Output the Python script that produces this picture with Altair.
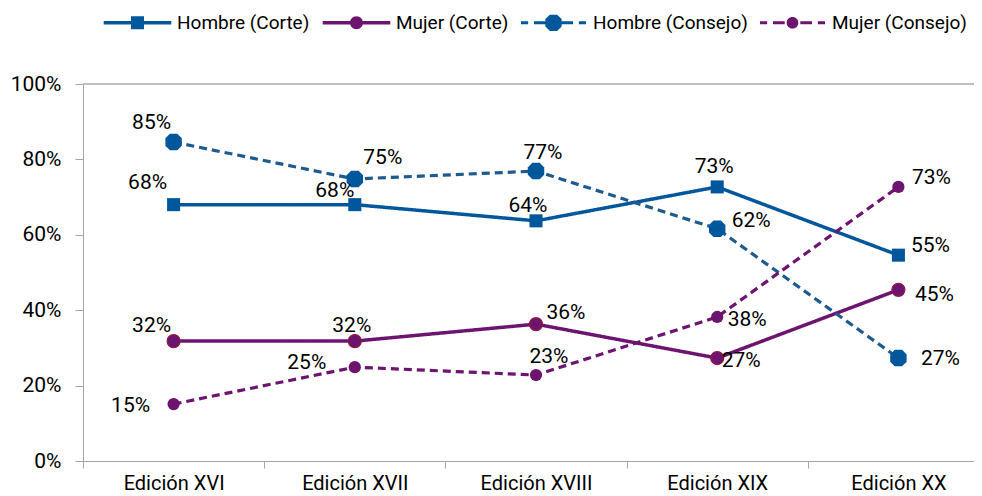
import altair as alt
import pandas as pd

# ---------------- data ----------------
categories = ["Edición XVI", "Edición XVII", "Edición XVIII", "Edición XIX", "Edición XX"]
series_names = ["Hombre (Corte)", "Mujer (Corte)", "Hombre (Consejo)", "Mujer (Consejo)"]

hombre_corte = [68.0, 68.0, 63.7, 72.7, 54.6]
mujer_corte = [31.8, 31.8, 36.3, 27.3, 45.4]
hombre_consejo = [84.6, 74.8, 76.9, 61.6, 27.3]
mujer_consejo = [15.1, 24.9, 22.8, 38.2, 72.7]

# label placement offsets (pixels, relative to each point)
label_dx = {
    "Hombre (Corte)": [-26, -20, -8, -3, 32],
    "Mujer (Corte)": [-22, -3, 30, 24, 36],
    "Hombre (Consejo)": [-22, 28, 7, 34, 42],
    "Mujer (Consejo)": [-43, -48, 13, 30, 33],
}
label_dy = {
    "Hombre (Corte)": [-22, -14, -15, -20, -9],
    "Mujer (Corte)": [-15, -15, -11, 3, 5],
    "Hombre (Consejo)": [-19, -21, -18, -8, 1],
    "Mujer (Consejo)": [2, -4, -18, 3, -9],
}

values = {
    "Hombre (Corte)": hombre_corte,
    "Mujer (Corte)": mujer_corte,
    "Hombre (Consejo)": hombre_consejo,
    "Mujer (Consejo)": mujer_consejo,
}

rows = []
for s in series_names:
    for i, c in enumerate(categories):
        rows.append({"serie": s, "edicion": c, "valor": values[s][i],
                     "dx": label_dx[s][i], "dy": label_dy[s][i]})
df = pd.DataFrame(rows)

# ---------------- styles ----------------
FONT = "Roboto"
FS = 21
BLUE = "#01579b"
PURPLE = "#6c1470"
BLUE2 = "#1f5a8e"
line_colors = [BLUE, PURPLE, BLUE2, PURPLE]
marker_colors = [BLUE, PURPLE, BLUE, PURPLE]
marker_strokes = [BLUE, "#8e1a3c", BLUE, PURPLE]
marker_stroke_w = [0, 1.2, 0, 0]
dashes = [[1, 0], [1, 0], [8, 5], [8, 5]]
line_widths = [3.5, 3.5, 3.2, 3.2]

OCT = "M-0.45,-1H0.45L1,-0.45V0.45L0.45,1H-0.45L-1,0.45V-0.45Z"
marker_shapes = ["square", "circle", OCT, "circle"]
marker_sizes = [170, 170, 270, 150]

# legend glyphs: line + marker
sq_solid = "M-5.2,-0.27H5.2V0.27H-5.2Z M-1,-1H1V1H-1Z"
ci_solid = "M-5.2,-0.27H5.2V0.27H-5.2Z M-1,0A1,1 0 1,1 1,0A1,1 0 1,1 -1,0Z"
dash_l = "M-5.0,-0.22H-3.9V0.22H-5.0Z M-3.0,-0.22H-1.2V0.22H-3.0Z M1.2,-0.22H3.0V0.22H1.2Z M3.9,-0.22H5.0V0.22H3.9Z"
oct_dash = dash_l + " M-0.56,-1.25H0.56L1.25,-0.56V0.56L0.56,1.25H-0.56L-1.25,0.56V-0.56Z"
ci_dash = dash_l + " M-0.9,0A0.9,0.9 0 1,1 0.9,0A0.9,0.9 0 1,1 -0.9,0Z"
legend_shapes = [sq_solid, ci_solid, oct_dash, ci_dash]

x_enc = alt.X("edicion:N", sort=categories,
              scale=alt.Scale(domain=categories, paddingInner=0, paddingOuter=0),
              axis=alt.Axis(title=None, labelAngle=0, tickBand="extent", domainColor="#a6a6a6",
                            tickColor="#a6a6a6", tickSize=7, labelPadding=5,
                            labelFont=FONT, labelFontSize=20, labelColor="#000000"))
y_enc = alt.Y("valor:Q", scale=alt.Scale(domain=[0, 100], nice=False),
              axis=alt.Axis(title=None, values=[0, 20, 40, 60, 80, 100],
                            labelExpr="datum.value + '%'", grid=False,
                            domainColor="#a6a6a6", tickColor="#a6a6a6", tickSize=8,
                            labelPadding=14, labelFont=FONT, labelFontSize=FS,
                            labelColor="#000000"))

base = alt.Chart(df)

layers = [base.mark_rule(color="#bfbfbf", strokeWidth=1.5).encode(y=alt.datum(100))]

for i, s in enumerate(series_names):
    sub = base.transform_filter(alt.datum.serie == s)
    layers.append(sub.mark_line(color=line_colors[i], strokeDash=dashes[i],
                                strokeWidth=line_widths[i]).encode(x=x_enc, y=y_enc))
for i, s in enumerate(series_names):
    sub = base.transform_filter(alt.datum.serie == s)
    layers.append(sub.mark_point(shape=marker_shapes[i], size=marker_sizes[i], filled=True,
                                 fill=marker_colors[i], stroke=marker_strokes[i],
                                 strokeWidth=marker_stroke_w[i], opacity=1)
                  .encode(x=x_enc, y=y_enc))

layers.append(base.transform_calculate(lbl="format(datum.valor, '.0f') + '%'").mark_text(
    font=FONT, fontSize=FS, color="#000000", align="center", baseline="middle",
    dx=alt.ExprRef("datum.dx"), dy=alt.ExprRef("datum.dy"),
).encode(x=x_enc, y=y_enc, text="lbl:N"))

leg = alt.Legend(title=None, orient="none", legendX=45, legendY=-71,
                 direction="horizontal", symbolSize=169,
                 symbolOpacity=1, symbolStrokeWidth=0,
                 labelFont=FONT, labelFontSize=19, labelColor="#000000",
                 labelOffset=30, columnPadding=12, labelLimit=300)

layers.append(base.mark_point(filled=True, opacity=0).encode(
    x=x_enc, y=y_enc,
    color=alt.Color("serie:N", scale=alt.Scale(domain=series_names, range=marker_colors), legend=leg),
    shape=alt.Shape("serie:N", scale=alt.Scale(domain=series_names, range=legend_shapes), legend=leg),
))

chart = alt.layer(*layers).properties(
    width=906, height=377,
    autosize=alt.AutoSizeParams(type="none"),
    padding={"left": 75, "top": 76, "right": -15, "bottom": 35},
).configure_view(stroke=None).configure(font=FONT)

chart.save("out.html", embed_options={"renderer": "svg", "actions": False})
